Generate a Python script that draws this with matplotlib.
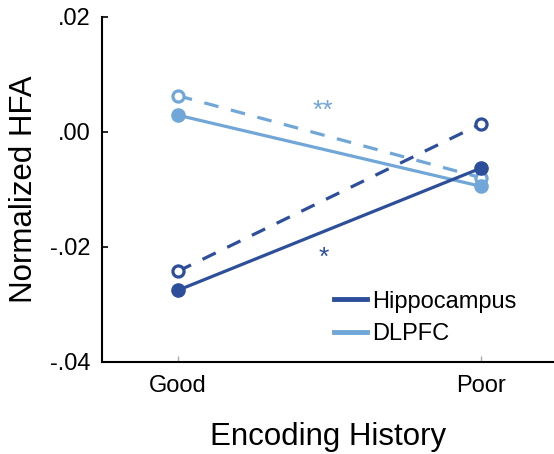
import matplotlib
matplotlib.use("Agg")
import matplotlib.pyplot as plt
from matplotlib.lines import Line2D

plt.rcParams['font.family'] = ['Liberation Sans', 'DejaVu Sans']

conditions = ["Good", "Poor"]
hipp_solid = [-0.0276, -0.0063]
hipp_dashed = [-0.0243, 0.0014]
dlpfc_solid = [0.0029, -0.0095]
dlpfc_dashed = [0.0063, -0.0080]
yticks = [0.02, 0.00, -0.02, -0.04]
ytick_labels = [".02", ".00", "-.02", "-.04"]
dark = "#2c4e9b"
light = "#70a6d8"

fig = plt.figure(figsize=(5.54, 4.54), dpi=100)
ax = fig.add_axes([0.184, 0.2037, 0.816, 0.7589])

x = list(range(len(conditions)))
lw = 2.3
ms = 9.5
dash = (0, (4.6, 4.0))
ax.plot(x, dlpfc_dashed, color=light, lw=lw, ls=dash, marker='o',
        ms=ms - 1.5, mfc='white', mec=light, mew=2.3, zorder=3)
ax.plot(x, hipp_dashed, color=dark, lw=lw, ls=dash, marker='o',
        ms=ms - 1.5, mfc='white', mec=dark, mew=2.3, zorder=3)
ax.plot(x, dlpfc_solid, color=light, lw=lw, marker='o', ms=ms,
        mfc=light, mec=light, zorder=4)
ax.plot(x, hipp_solid, color=dark, lw=lw, marker='o', ms=ms,
        mfc=dark, mec=dark, zorder=4)

ax.text(0.477, 0.0037, "**", color=light, fontsize=19, ha='center', va='center')
ax.text(0.482, -0.0219, "*", color=dark, fontsize=19, ha='center', va='center')

ax.set_xlim(-0.25, 1.24)
ax.set_ylim(-0.04, 0.02)
ax.set_xticks(x)
ax.set_xticklabels(conditions, fontsize=17)
ax.set_yticks(yticks)
ax.set_yticklabels(ytick_labels, fontsize=17)
ax.tick_params(axis='y', direction='in', length=4, width=1.2, pad=8, colors='black')
ax.tick_params(axis='x', direction='in', length=4, width=1, pad=10, color='#aaaaaa')
for s in ['top', 'right']:
    ax.spines[s].set_visible(False)
for s in ['left', 'bottom']:
    ax.spines[s].set_linewidth(1.5)

ax.set_xlabel("Encoding History", fontsize=22.5, labelpad=18)
ax.set_ylabel("Normalized HFA", fontsize=22.5, labelpad=8)

handles = [Line2D([], [], color=dark, lw=3.5), Line2D([], [], color=light, lw=3.5)]
leg = ax.legend(handles=handles, labels=["Hippocampus", "DLPFC"], loc='lower left',
                bbox_to_anchor=(0.493, 0.02), frameon=False, fontsize=17,
                handlelength=1.4, handletextpad=0.2, labelspacing=0.45,
                borderaxespad=0)

fig.savefig("out.png", dpi=100)
